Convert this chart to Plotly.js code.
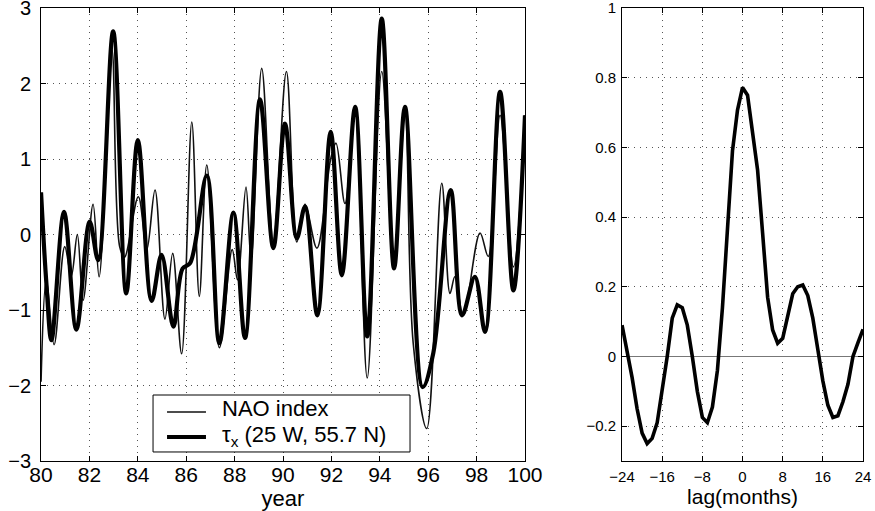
<!DOCTYPE html>
<html>
<head>
<meta charset="utf-8">
<script src="https://cdn.plot.ly/plotly-3.0.1.min.js"></script>
<style>html,body{margin:0;padding:0;background:#fff;}#chart{width:875px;height:511px;}</style>
</head>
<body>
<div id="chart"></div>
<script>
// ---- data ----
var tauYears = [80.00, 80.22, 80.43, 80.95, 81.46, 82.01, 82.36, 82.98, 83.52, 84.00, 84.57, 84.98, 85.47, 85.85, 86.16, 86.85, 87.37, 87.95, 88.43, 89.05, 89.60, 90.08, 90.57, 90.91, 91.42, 91.97, 92.43, 92.98, 93.48, 94.08, 94.59, 95.04, 95.77, 96.21, 96.93, 97.40, 97.93, 98.35, 98.97, 99.52, 100.00];
var tauValues = [0.56, -0.64, -1.40, 0.30, -1.26, 0.17, -0.34, 2.69, -0.78, 1.25, -0.88, -0.27, -1.22, -0.45, -0.38, 0.78, -1.44, 0.29, -1.37, 1.79, -0.18, 1.47, -0.05, 0.37, -1.07, 1.36, -0.54, 1.69, -1.35, 2.86, -0.45, 1.69, -2.02, -1.57, 0.59, -1.07, -0.56, -1.29, 1.89, -0.74, 1.58];

var naoYears = [80.00, 80.22, 80.54, 80.98, 81.25, 81.50, 81.74, 82.15, 82.40, 82.93, 83.25, 83.45, 84.02, 84.37, 84.71, 85.12, 85.44, 85.81, 86.23, 86.54, 86.85, 87.37, 87.90, 88.12, 88.47, 88.68, 89.12, 89.60, 90.14, 90.57, 90.91, 91.40, 91.97, 92.19, 92.56, 92.98, 93.48, 94.08, 94.59, 95.04, 95.38, 95.94, 96.56, 96.90, 97.10, 97.45, 98.14, 98.48, 98.97, 99.52, 100.00];
var naoValues = [-1.95, -0.60, -1.46, -0.16, -0.55, 0.00, -0.87, 0.40, -0.56, 2.45, -0.16, -0.30, 0.50, -0.20, 0.59, -1.12, -0.25, -1.58, 1.49, -0.82, 0.92, -1.50, -0.20, -0.60, 0.63, -0.33, 2.20, -0.08, 2.16, -0.10, 0.40, -0.18, 1.00, 1.21, 0.41, 1.65, -1.90, 2.16, -0.40, 1.60, -1.44, -2.57, 0.68, -0.78, -0.56, -1.07, 0.02, -0.29, 1.58, -0.43, 1.58];

var lags = [-24,-23,-22,-21,-20,-19,-18,-17,-16,-15,-14,-13,-12,-11,-10,-9,-8,-7,-6,-5,-4,-3,-2,-1,0,1,2,3,4,5,6,7,8,9,10,11,12,13,14,15,16,17,18,19,20,21,22,23,24];
var corr = [0.09,0.02,-0.06,-0.15,-0.22,-0.25,-0.235,-0.19,-0.10,0.00,0.11,0.148,0.14,0.09,0.0,-0.10,-0.175,-0.19,-0.145,-0.04,0.14,0.35,0.59,0.707,0.772,0.75,0.65,0.535,0.354,0.17,0.076,0.038,0.052,0.12,0.18,0.20,0.205,0.175,0.11,0.02,-0.07,-0.14,-0.175,-0.17,-0.13,-0.08,0.0,0.04,0.078];

var leftXTicks = [80,82,84,86,88,90,92,94,96,98,100];
var leftYTicks = [-3,-2,-1,0,1,2,3];
var rightXTicks = [-24,-16,-8,0,8,16,24];
var rightYTicks = [-0.2,0,0.2,0.4,0.6,0.8,1];
var seriesNames = ['NAO index', '\u03c4<sub>x</sub> (25 W, 55.7 N)'];

var FONT = 'Liberation Sans, Arial, Helvetica, sans-serif';
var thinW = 1.6, thickW = 4.2;

var traces = [
  {x: naoYears, y: naoValues, type: 'scatter', mode: 'lines', name: seriesNames[0],
   line: {color: '#111', width: thinW, shape: 'spline', smoothing: 1}, xaxis: 'x', yaxis: 'y'},
  {x: tauYears, y: tauValues, type: 'scatter', mode: 'lines', name: seriesNames[1],
   line: {color: '#000', width: thickW, shape: 'spline', smoothing: 1}, xaxis: 'x', yaxis: 'y'},
  {x: lags, y: corr, type: 'scatter', mode: 'lines',
   line: {color: '#000', width: 3.6}, xaxis: 'x2', yaxis: 'y2'}
];

function ax(extra) {
  var o = {showline: true, linecolor: '#000', linewidth: 1, mirror: 'ticks',
           ticks: 'inside', ticklen: 5, tickcolor: '#000', zeroline: false,
           showgrid: true, gridcolor: '#555', gridwidth: 1, griddash: '1px,5px',
           ticklabeloverflow: 'allow', automargin: false};
  for (var k in extra) o[k] = extra[k];
  return o;
}

// legend frame (drawn as decoration in paper coordinates)
var lgX0 = 0.1749, lgX1 = 0.4686, lgY0 = 0.1155, lgY1 = 0.2270;
var sampleX0 = 0.1909, sampleX1 = 0.2354, textX = 0.2514;
var rowY = [0.1938, 0.1448];

var layout = {
  width: 875, height: 511,
  margin: {l: 0, r: 0, t: 0, b: 0},
  paper_bgcolor: '#fff', plot_bgcolor: '#fff',
  font: {family: FONT, color: '#000', size: 22},
  showlegend: false,
  xaxis: ax({domain: [0.0469, 0.6], range: [80, 100], tickvals: leftXTicks,
             tickfont: {size: 21}, ticklabelstandoff: -5,
             title: {text: 'year', font: {size: 22}, standoff: 18}, anchor: 'y'}),
  yaxis: ax({domain: [0.0978, 0.9843], range: [-3, 3], tickvals: leftYTicks,
             tickfont: {size: 20}, ticklabelstandoff: 5, anchor: 'x'}),
  xaxis2: ax({domain: [0.7109, 0.9863], range: [-24, 24], tickvals: rightXTicks,
              tickfont: {size: 15}, ticklabelstandoff: 2,
              title: {text: 'lag(months)', font: {size: 21}, standoff: 4}, anchor: 'y2'}),
  yaxis2: ax({domain: [0.0978, 0.9843], range: [-0.3, 1], tickvals: rightYTicks,
              tickfont: {size: 15}, ticklabelstandoff: 2, anchor: 'x2',
              zeroline: true, zerolinecolor: '#777', zerolinewidth: 1}),
  shapes: [
    {type: 'rect', xref: 'paper', yref: 'paper', x0: lgX0, x1: lgX1, y0: lgY0, y1: lgY1,
     line: {color: '#000', width: 1}, fillcolor: '#fff', layer: 'above'},
    {type: 'line', xref: 'paper', yref: 'paper', x0: sampleX0, x1: sampleX1, y0: rowY[0], y1: rowY[0],
     line: {color: '#111', width: thinW}, layer: 'above'},
    {type: 'line', xref: 'paper', yref: 'paper', x0: sampleX0, x1: sampleX1, y0: rowY[1], y1: rowY[1],
     line: {color: '#000', width: thickW}, layer: 'above'}
  ],
  annotations: [
    {xref: 'paper', yref: 'paper', x: textX, y: rowY[0] + 0.006, xanchor: 'left', yanchor: 'middle',
     text: seriesNames[0], showarrow: false, font: {size: 22, family: FONT, color: '#000'}},
    {xref: 'paper', yref: 'paper', x: textX, y: rowY[1] + 0.002, xanchor: 'left', yanchor: 'middle',
     text: seriesNames[1], showarrow: false, font: {size: 22, family: FONT, color: '#000'}}
  ]
};

Plotly.newPlot('chart', traces, layout, {staticPlot: true, displayModeBar: false});
</script>
</body>
</html>
